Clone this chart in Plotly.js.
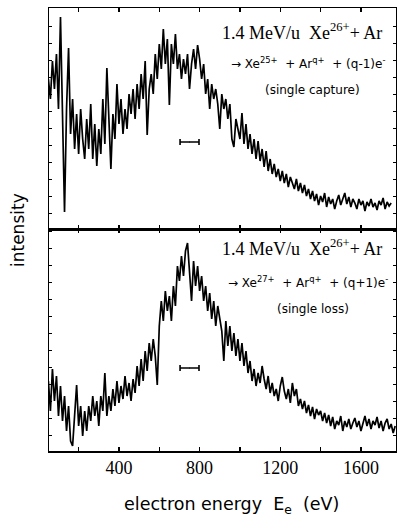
<!DOCTYPE html>
<html>
<head>
<meta charset="utf-8">
<script src="https://cdn.plot.ly/plotly-3.0.1.min.js"></script>
<style>html,body{margin:0;padding:0;background:#fff;} #chart{width:397px;height:518px;}</style>
</head>
<body>
<div id="chart"></div>
<script>
// Electron energy grid start/step (eV) for both spectra
const energyStart = 50;
const energyStep = 10;

// Single capture spectrum (top panel), arbitrary intensity units
const intensityCapture = [
150,130,168,140,175,120,212,95,17,120,
181,95,130,80,115,75,120,90,70,110,
80,125,70,105,63,100,75,130,85,161,
100,60,115,90,145,105,130,95,120,100,
135,115,140,110,145,120,155,130,168,94,
140,155,135,175,150,185,160,200,165,190,
124,185,165,195,160,175,150,170,155,175,
140,165,180,160,184,170,150,165,135,150,
120,145,130,140,125,100,135,120,130,110,
125,90,82,110,100,90,116,85,105,80,
95,75,90,70,88,68,80,62,78,58,
70,55,65,52,60,48,58,46,55,42,
52,45,40,50,38,46,36,44,33,40,
30,38,28,35,24,33,27,36,22,32,
25,30,20,28,34,24,30,36,25,32,
22,30,26,20,30,24,28,18,27,23,
30,22,26,19,28,24,31,20,27,23,
26
];

// Single loss spectrum (bottom panel), arbitrary intensity units
const intensityLoss = [
70,40,82,50,75,35,65,30,55,20,
45,10,5,40,66,25,45,15,40,20,
45,30,55,35,50,25,55,40,78,35,
55,40,62,45,70,48,65,52,75,55,
68,50,72,58,85,65,92,70,100,80,
108,90,112,95,66,125,150,130,160,140,
155,130,165,145,185,170,195,175,200,208,
180,150,190,165,185,160,175,150,165,140,
158,132,150,125,145,130,120,90,130,105,
125,100,118,95,112,90,108,85,100,78,
90,70,82,65,78,68,85,72,62,75,
58,68,55,62,50,65,74,60,52,62,
48,68,55,62,45,52,42,50,38,46,
35,44,32,42,36,40,30,38,28,36,
25,34,22,30,26,35,20,30,24,32,
22,28,33,24,30,20,28,35,25,32,
22,30,26,34,23,30,20,28,32,22,
27,18,25
];

// Energy-resolution bars: centre and half-width (eV), height (intensity)
const resCenter = [750];
const resHalfWidth = [47];
const resLevelCapture = [87];
const resLevelLoss = [83];

// Axis ticks (eV): labelled major step and unlabelled minor step
const xMajorStep = 400;
const xMinorStep = 200;

const energyCapture = intensityCapture.map((_, i) => energyStart + energyStep * i);
const energyLoss = intensityLoss.map((_, i) => energyStart + energyStep * i);

const W = 397, H = 518;
const M = {l: 49, r: 1, t: 8, b: 67};
const pw = W - M.l - M.r, ph = H - M.t - M.b;
const px = x => (x - M.l) / pw;
const py = y => (H - M.b - y) / ph;

const lineStyle = {color: '#000', width: 1.7};
const traces = [
  {x: energyLoss, y: intensityLoss, xaxis: 'x', yaxis: 'y', mode: 'lines',
   line: lineStyle, hoverinfo: 'skip'},
  {x: energyCapture, y: intensityCapture, xaxis: 'x2', yaxis: 'y2', mode: 'lines',
   line: lineStyle, hoverinfo: 'skip'},
  {x: resCenter, y: resLevelLoss, xaxis: 'x', yaxis: 'y', mode: 'markers',
   marker: {size: 1, color: '#000'},
   error_x: {type: 'data', array: resHalfWidth, color: '#000', thickness: 1.6, width: 3}},
  {x: resCenter, y: resLevelCapture, xaxis: 'x2', yaxis: 'y2', mode: 'markers',
   marker: {size: 1, color: '#000'},
   error_x: {type: 'data', array: resHalfWidth, color: '#000', thickness: 1.6, width: 3}}
];

const split = 222 / ph;
const xCommon = {
  range: [53, 1774], tick0: 0, dtick: xMajorStep,
  ticks: 'inside', ticklen: 4, tickwidth: 1.2, tickcolor: '#000',
  minor: {dtick: xMinorStep, ticks: 'inside', ticklen: 4, tickwidth: 1.2, tickcolor: '#000', showgrid: false},
  showline: true, linecolor: '#000', linewidth: 1.5, mirror: 'ticks',
  showgrid: false, zeroline: false
};
const yCommon = {
  tick0: 16, dtick: 17, ticks: 'inside', ticklen: 3, tickwidth: 1, tickcolor: '#000',
  showline: true, linecolor: '#000', linewidth: 1.5, mirror: 'ticks',
  showgrid: false, zeroline: false, showticklabels: false
};

function ann(text, x, y, size, family, extra) {
  return Object.assign({text: text, xref: 'paper', yref: 'paper', x: px(x), y: py(y),
    xanchor: 'center', yanchor: 'middle', showarrow: false,
    font: {size: size, family: family, color: '#000'}}, extra || {});
}
const serif = 'Liberation Serif, Times New Roman, serif';
const sans = 'DejaVu Sans, sans-serif';

const layout = {
  width: W, height: H, margin: M, showlegend: false,
  paper_bgcolor: '#fff', plot_bgcolor: '#fff',
  xaxis: Object.assign({}, xCommon, {anchor: 'y', domain: [0, 1],
    showticklabels: true, tickfont: {family: serif, size: 18, color: '#000'}}),
  xaxis2: Object.assign({}, xCommon, {anchor: 'y2', matches: 'x', showticklabels: false}),
  yaxis: Object.assign({}, yCommon, {domain: [0, split], range: [0, 222]}),
  yaxis2: Object.assign({}, yCommon, {domain: [split, 1], range: [0, 221]}),
  annotations: [
    ann('1.4 MeV/u  Xe<sup>26+</sup>+ Ar', 302, 32, 18, serif),
    ann('→ Xe<sup>25+</sup>  + Ar<sup>q+</sup>  + (q-1)e<sup>-</sup>', 308, 63, 12, sans),
    ann('(single capture)', 312, 90, 12, sans),
    ann('1.4 MeV/u  Xe<sup>26+</sup>+ Ar', 302, 248, 18, serif),
    ann('→ Xe<sup>27+</sup>  + Ar<sup>q+</sup>  + (q+1)e<sup>-</sup>', 308, 282, 12, sans),
    ann('(single loss)', 313, 309, 12, sans),
    ann('intensity', 18, 230, 17, sans, {textangle: -90}),
    ann('electron energy  E<sub>e</sub>  (eV)', 231, 505, 17.5, sans)
  ]
};

Plotly.newPlot('chart', traces, layout, {staticPlot: true, displayModeBar: false});
</script>
</body>
</html>
